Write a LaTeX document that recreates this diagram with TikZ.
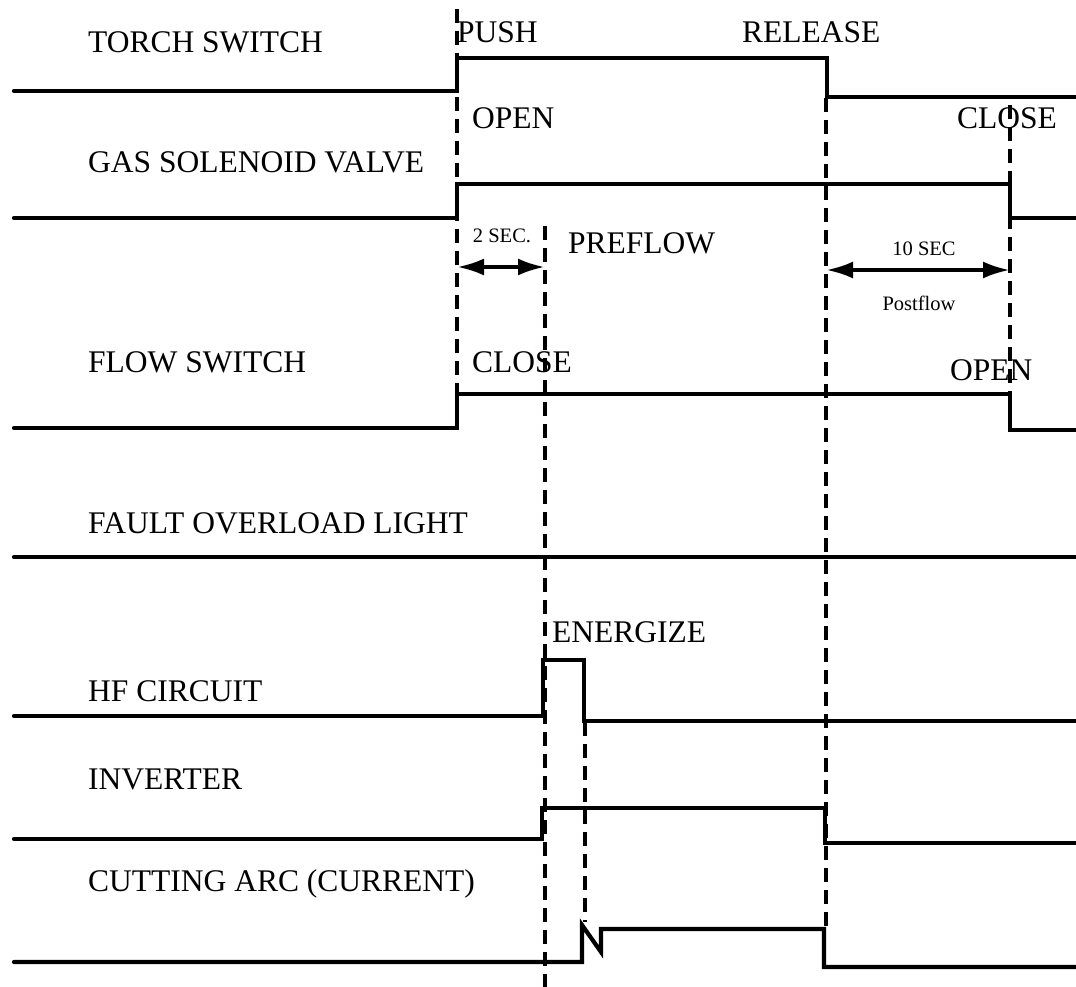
\documentclass[tikz,border=0pt]{standalone}
\usepackage{fontspec}
\setmainfont{Liberation Serif}
\usetikzlibrary{arrows.meta}
\begin{document}
\begin{tikzpicture}[x=1pt,y=-1pt,
  sig/.style={line width=4.2pt, line join=miter, line cap=round},
  guide/.style={line width=4.8pt, dash pattern=on 14pt off 8pt},
  big/.style={font=\fontsize{31.5}{36}\selectfont, inner sep=0pt, anchor=base west},
  small/.style={font=\fontsize{20.5}{24}\selectfont, inner sep=0pt, anchor=base},
  dim/.style={line width=4pt, {Latex[length=27pt,width=17pt]}-{Latex[length=27pt,width=17pt]}}
]
\useasboundingbox (0,0) rectangle (1076,987);

% signal names
\node[big] (lTorch) at (88,53) {TORCH SWITCH};
\node[big] (lGas) at (88,173) {GAS SOLENOID VALVE};
\node[big] (lFlow) at (88,372) {FLOW SWITCH};
\node[big] (lFault) at (88,533) {FAULT OVERLOAD LIGHT};
\node[big] (lHF) at (88,701) {HF CIRCUIT};
\node[big] (lInv) at (88,789) {INVERTER};
\node[big] (lArc) at (88,891) {CUTTING ARC (CURRENT)};

% event labels
\node[big] (push) at (457,43) {PUSH};
\node[big] (release) at (742,43) {RELEASE};
\node[big] (open1) at (472,129) {OPEN};
\node[big] (close1) at (957,129) {CLOSE};
\node[big] (preflow) at (568,253) {PREFLOW};
\node[big] (close2) at (472,372) {CLOSE};
\node[big] (open2) at (950,380) {OPEN};
\node[big] (energize) at (552,642) {ENERGIZE};
\node[small] (twosec) at (502,243) {2 SEC.};
\node[small] (tensec) at (924,255) {10 SEC};
\node[small] (postflow) at (919,310) {Postflow};

% signals
\draw[sig] (14,91) -- (457,91) -- (457,58) -- (827,58) -- (827,97) -- (1076,97);
\draw[sig] (14,218) -- (457,218) -- (457,184) -- (1010,184) -- (1010,218) -- (1076,218);
\draw[sig] (14,428) -- (457,428) -- (457,394) -- (1010,394) -- (1010,430) -- (1076,430);
\draw[sig] (14,557) -- (1076,557);
\draw[sig] (14,716) -- (543,716) -- (543,660) -- (584,660) -- (584,721) -- (1076,721);
\draw[sig] (14,839) -- (542,839) -- (542,808) -- (825,808) -- (825,843) -- (1076,843);
\draw[sig] (14,962) -- (582,962) -- (582,925) -- (601,952) -- (601,929) -- (824,929) -- (824,967) -- (1076,967);

% timing guides
\draw[guide] (457,9) -- (457,428);
\draw[guide] (545,226) -- (545,987);
\draw[guide] (585,722) -- (585,922);
\draw[guide] (826,98) -- (826,930);
\draw[guide] (1010,105) -- (1010,394);

% dimension arrows
\coordinate (a1) at (457,267);
\coordinate (a2) at (545,267);
\coordinate (b1) at (826,270);
\coordinate (b2) at (1010,270);
\draw[dim] (a1) -- (a2);
\draw[dim] (b1) -- (b2);
\end{tikzpicture}
\end{document}
